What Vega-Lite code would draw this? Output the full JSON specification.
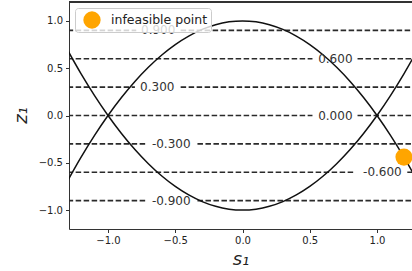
{
  "$schema": "https://vega.github.io/schema/vega-lite/v6.json",
  "autosize": {"type": "none"},
  "padding": {"left": 69, "top": 2, "right": 0, "bottom": 42},
  "width": 343,
  "height": 227,
  "background": "white",
  "config": {
    "view": {"stroke": null},
    "font": "DejaVu Sans",
    "axis": {"grid": false, "domainColor": "#333", "domainWidth": 1, "tickColor": "#333", "tickSize": 3.5, "labelFont": "DejaVu Sans", "labelFontSize": 10, "labelColor": "#222", "titleFont": "DejaVu Sans", "titleFontSize": 18, "titleFontWeight": "normal", "titleColor": "#222", "titleFontStyle": "italic"}
  },
  "datasets": {
    "contours": [
      {"level": 0.9, "x1": -1.3, "x2": -0.79},
      {"level": 0.9, "x1": -0.46, "x2": 1.3},
      {"level": 0.6, "x1": -1.3, "x2": 0.52},
      {"level": 0.6, "x1": 0.855, "x2": 1.3},
      {"level": 0.3, "x1": -1.3, "x2": -0.80},
      {"level": 0.3, "x1": -0.46, "x2": 1.3},
      {"level": 0.0, "x1": -1.3, "x2": 0.52},
      {"level": 0.0, "x1": 0.855, "x2": 1.3},
      {"level": -0.3, "x1": -1.3, "x2": -0.72},
      {"level": -0.3, "x1": -0.335, "x2": 1.3},
      {"level": -0.6, "x1": -1.3, "x2": 0.84},
      {"level": -0.6, "x1": 1.225, "x2": 1.3},
      {"level": -0.9, "x1": -1.3, "x2": -0.72},
      {"level": -0.9, "x1": -0.335, "x2": 1.3}
    ],
    "labels": [
      {"s": -0.627, "z": 0.9, "label": "0.900"},
      {"s": 0.69, "z": 0.6, "label": "0.600"},
      {"s": -0.634, "z": 0.3, "label": "0.300"},
      {"s": 0.69, "z": 0.0, "label": "0.000"},
      {"s": -0.53, "z": -0.3, "label": "-0.300"},
      {"s": 1.04, "z": -0.6, "label": "-0.600"},
      {"s": -0.53, "z": -0.9, "label": "-0.900"}
    ],
    "curves": [
      {"c": "a", "s": -1.3, "z": -0.69}, {"c": "a", "s": -1.2, "z": -0.44}, {"c": "a", "s": -1.1, "z": -0.21},
      {"c": "a", "s": -1.0, "z": 0.0}, {"c": "a", "s": -0.9, "z": 0.19}, {"c": "a", "s": -0.8, "z": 0.36},
      {"c": "a", "s": -0.7, "z": 0.51}, {"c": "a", "s": -0.6, "z": 0.64}, {"c": "a", "s": -0.5, "z": 0.75},
      {"c": "a", "s": -0.4, "z": 0.84}, {"c": "a", "s": -0.3, "z": 0.91}, {"c": "a", "s": -0.2, "z": 0.96},
      {"c": "a", "s": -0.1, "z": 0.99}, {"c": "a", "s": 0.0, "z": 1.0}, {"c": "a", "s": 0.1, "z": 0.99},
      {"c": "a", "s": 0.2, "z": 0.96}, {"c": "a", "s": 0.3, "z": 0.91}, {"c": "a", "s": 0.4, "z": 0.84},
      {"c": "a", "s": 0.5, "z": 0.75}, {"c": "a", "s": 0.6, "z": 0.64}, {"c": "a", "s": 0.7, "z": 0.51},
      {"c": "a", "s": 0.8, "z": 0.36}, {"c": "a", "s": 0.9, "z": 0.19}, {"c": "a", "s": 1.0, "z": 0.0},
      {"c": "a", "s": 1.1, "z": -0.21}, {"c": "a", "s": 1.2, "z": -0.44}, {"c": "a", "s": 1.3, "z": -0.69},
      {"c": "b", "s": -1.3, "z": 0.69}, {"c": "b", "s": -1.2, "z": 0.44}, {"c": "b", "s": -1.1, "z": 0.21},
      {"c": "b", "s": -1.0, "z": 0.0}, {"c": "b", "s": -0.9, "z": -0.19}, {"c": "b", "s": -0.8, "z": -0.36},
      {"c": "b", "s": -0.7, "z": -0.51}, {"c": "b", "s": -0.6, "z": -0.64}, {"c": "b", "s": -0.5, "z": -0.75},
      {"c": "b", "s": -0.4, "z": -0.84}, {"c": "b", "s": -0.3, "z": -0.91}, {"c": "b", "s": -0.2, "z": -0.96},
      {"c": "b", "s": -0.1, "z": -0.99}, {"c": "b", "s": 0.0, "z": -1.0}, {"c": "b", "s": 0.1, "z": -0.99},
      {"c": "b", "s": 0.2, "z": -0.96}, {"c": "b", "s": 0.3, "z": -0.91}, {"c": "b", "s": 0.4, "z": -0.84},
      {"c": "b", "s": 0.5, "z": -0.75}, {"c": "b", "s": 0.6, "z": -0.64}, {"c": "b", "s": 0.7, "z": -0.51},
      {"c": "b", "s": 0.8, "z": -0.36}, {"c": "b", "s": 0.9, "z": -0.19}, {"c": "b", "s": 1.0, "z": 0.0},
      {"c": "b", "s": 1.1, "z": 0.21}, {"c": "b", "s": 1.2, "z": 0.44}, {"c": "b", "s": 1.3, "z": 0.69}
    ],
    "points": [
      {"series": "infeasible point", "s": 1.2, "z": -0.44}
    ]
  },
  "layer": [
    {
      "data": {"name": "contours"},
      "mark": {"type": "rule", "color": "#2a2a2a", "strokeWidth": 1.7, "strokeDash": [5.5, 2.5], "clip": true},
      "encoding": {
        "x": {"field": "x1", "type": "quantitative", "scale": {"domain": [-1.29, 1.26], "nice": false, "zero": false},
              "axis": {"orient": "bottom", "values": [-1, -0.5, 0, 0.5, 1], "format": ".1f", "title": "s₁", "labelPadding": 3, "titlePadding": 5}},
        "x2": {"field": "x2"},
        "y": {"field": "level", "type": "quantitative", "scale": {"domain": [-1.2, 1.2], "nice": false, "zero": false},
              "axis": {"values": [-1, -0.5, 0, 0.5, 1], "format": ".1f", "title": "z₁", "labelPadding": 3, "titleX": -48, "titleY": 113, "titleAngle": 270, "titleAlign": "center", "titleBaseline": "middle"}}
      }
    },
    {
      "data": {"name": "curves"},
      "mark": {"type": "line", "color": "#111", "strokeWidth": 1.5, "interpolate": "monotone", "clip": true},
      "encoding": {
        "x": {"field": "s", "type": "quantitative"},
        "y": {"field": "z", "type": "quantitative"},
        "detail": {"field": "c"},
        "order": {"field": "s", "type": "quantitative"}
      }
    },
    {
      "data": {"name": "labels"},
      "mark": {"type": "text", "font": "DejaVu Sans", "fontSize": 12, "color": "#333", "align": "center", "baseline": "middle"},
      "encoding": {
        "x": {"field": "s", "type": "quantitative"},
        "y": {"field": "z", "type": "quantitative"},
        "text": {"field": "label"}
      }
    },
    {
      "data": {"name": "curves"},
      "mark": {"type": "rule", "color": "#333", "strokeWidth": 1},
      "encoding": {
        "y": {"datum": 1.2}
      }
    },
    {
      "data": {"name": "points"},
      "mark": {"type": "point", "filled": true, "opacity": 1, "size": 290, "shape": "circle"},
      "encoding": {
        "x": {"field": "s", "type": "quantitative"},
        "y": {"field": "z", "type": "quantitative"},
        "color": {"field": "series", "type": "nominal", "scale": {"domain": ["infeasible point"], "range": ["#FFA500"]},
                  "legend": {"orient": "none", "legendX": 6, "legendY": 6, "title": null, "fillColor": "rgba(255,255,255,0.8)", "strokeColor": "#ccc", "cornerRadius": 3, "padding": 3, "symbolSize": 300, "symbolType": "circle", "symbolStrokeWidth": 0, "symbolOffset": 5, "labelFontSize": 12.5, "labelFont": "DejaVu Sans", "labelColor": "#222", "symbolOpacity": 1, "labelOffset": 10}}
      }
    }
  ]
}
